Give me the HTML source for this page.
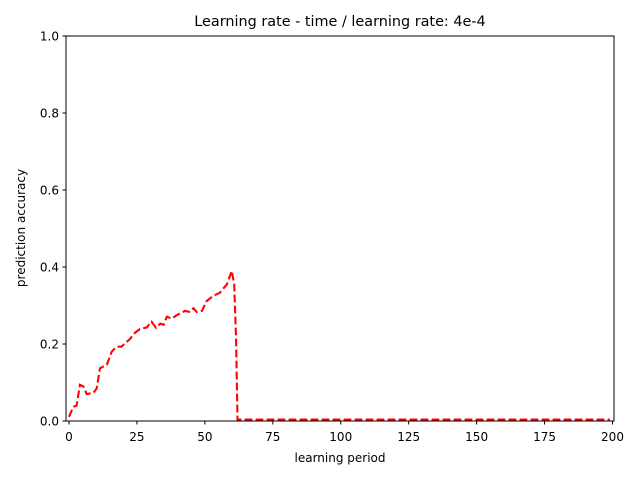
<!DOCTYPE html>
<html><head><meta charset="utf-8"><style>
html,body{margin:0;padding:0;background:#fff;}
svg{display:block;font-family:"DejaVu Sans","Liberation Sans",sans-serif;}
</style></head><body>
<svg id="chart" width="640" height="480" viewBox="0 0 640 480">
<rect x="0" y="0" width="640" height="480" fill="#fff"/>
<text x="340" y="26" text-anchor="middle" font-size="14.4">Learning rate - time / learning rate: 4e-4</text>
<g id="axes"></g>
<path id="line" fill="none" stroke="#ff0000" stroke-width="2.08" stroke-dasharray="7.7,3.3"/>
<rect x="66" y="36" width="548" height="385" fill="none" stroke="#000" stroke-width="1"/>
<text x="340" y="462" text-anchor="middle" font-size="12">learning period</text>
<text transform="translate(25,228) rotate(-90)" text-anchor="middle" font-size="12">prediction accuracy</text>
</svg>
<script>
const periods=[0,1.6,2.8,4,5.3,6.5,9,10.2,11.4,13.9,15.7,17.5,19.3,22.4,24.3,26.1,28.6,30.4,32,33.6,34.8,36,37.8,39.7,42.7,44.6,45.8,47,48.9,50.7,53.1,55.5,58.1,59.9,60.8,61.5,62,199];
const accuracy=[0.011,0.037,0.04,0.094,0.09,0.07,0.073,0.085,0.137,0.146,0.18,0.193,0.193,0.213,0.229,0.239,0.243,0.258,0.242,0.253,0.25,0.271,0.266,0.275,0.286,0.283,0.293,0.283,0.286,0.312,0.325,0.333,0.355,0.39,0.355,0.21,0.004,0.004];
const xTicks=[0,25,50,75,100,125,150,175,200];
const yTicks=[0,0.2,0.4,0.6,0.8,1.0];
const yLabels=["0.0","0.2","0.4","0.6","0.8","1.0"];
const X0=69,XS=2.7175,Y0=421,YS=385;
const xs=v=>X0+v*XS, ys=v=>Y0-v*YS;
const ns="http://www.w3.org/2000/svg";
const ax=document.getElementById('axes');
xTicks.forEach(t=>{
 const l=document.createElementNS(ns,'line');
 l.setAttribute('x1',xs(t));l.setAttribute('x2',xs(t));l.setAttribute('y1',421);l.setAttribute('y2',424.5);l.setAttribute('stroke','#000');
 
 
 ax.appendChild(l);
 const tx=document.createElementNS(ns,'text');
 tx.setAttribute('x',xs(t));tx.setAttribute('y',441);tx.setAttribute('text-anchor','middle');tx.setAttribute('font-size','12');tx.textContent=t;
 
 
 ax.appendChild(tx);
});
yTicks.forEach((t,i)=>{
 const l=document.createElementNS(ns,'line');
 l.setAttribute('x1',62.5);l.setAttribute('x2',66);l.setAttribute('y1',ys(t));l.setAttribute('y2',ys(t));l.setAttribute('stroke','#000');
 
 
 ax.appendChild(l);
 const tx=document.createElementNS(ns,'text');
 tx.setAttribute('x',59);tx.setAttribute('y',ys(t)+4.5);tx.setAttribute('text-anchor','end');tx.setAttribute('font-size','12');tx.textContent=yLabels[i];
 
 
 ax.appendChild(tx);
});
document.getElementById('line').setAttribute('d',periods.map((p,i)=>(i?'L':'M')+xs(p).toFixed(1)+','+ys(accuracy[i]).toFixed(1)).join(''));
</script>
</body></html>
